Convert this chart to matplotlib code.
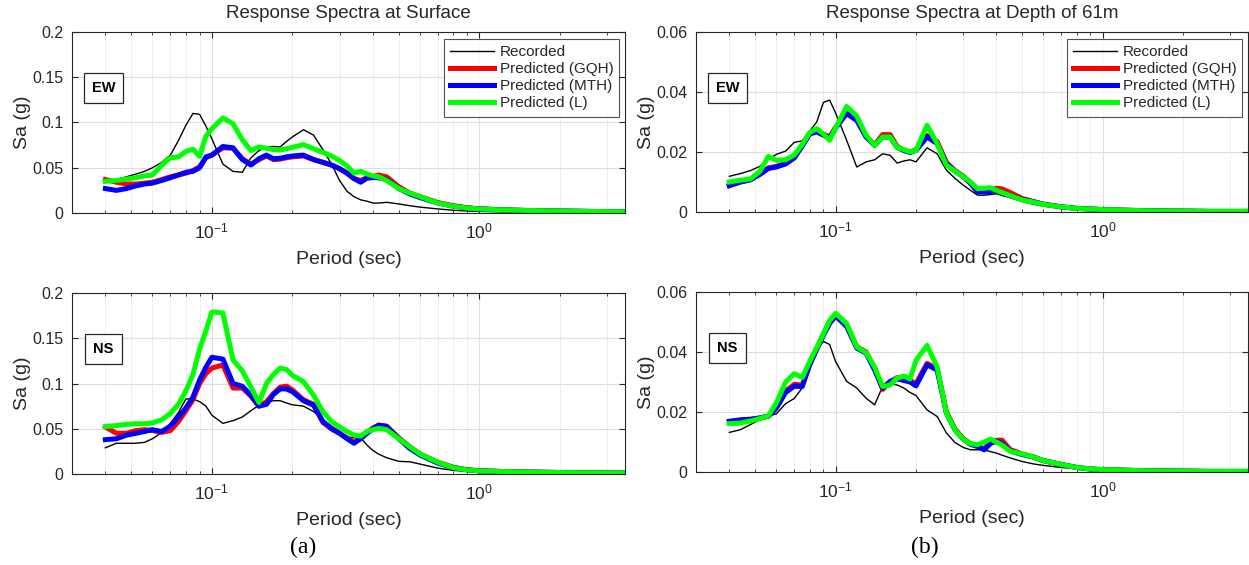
import math
import matplotlib
matplotlib.use("Agg")
import matplotlib.pyplot as plt
from matplotlib.ticker import LogLocator, FixedLocator, NullFormatter, FuncFormatter

plt.rcParams['font.family'] = ['Liberation Sans', 'DejaVu Sans']
plt.rcParams['mathtext.fontset'] = 'custom'
plt.rcParams['mathtext.rm'] = 'Liberation Sans'
plt.rcParams['mathtext.it'] = 'Liberation Sans:italic'

# ---- periods (sec) shared by all spectra ----
periods = [0.04, 0.044, 0.048, 0.052, 0.056, 0.06, 0.065, 0.07, 0.075, 0.08,
           0.085, 0.09, 0.095, 0.1, 0.11, 0.12, 0.13, 0.14, 0.15, 0.16,
           0.17, 0.18, 0.19, 0.2, 0.22, 0.24, 0.26, 0.28, 0.3, 0.32,
           0.34, 0.36, 0.38, 0.4, 0.42, 0.45, 0.5, 0.55, 0.6, 0.7,
           0.8, 0.9, 1.0, 1.2, 1.5, 2.0, 2.5, 3.0, 3.5]

# ---- surface, EW ----
ew_surf_rec = [0.035, 0.037, 0.040, 0.043, 0.046, 0.050, 0.056, 0.064, 0.080, 0.097,
               0.110, 0.109, 0.096, 0.082, 0.054, 0.046, 0.045, 0.061, 0.069, 0.073,
               0.0735, 0.073, 0.079, 0.084, 0.092, 0.086, 0.070, 0.054, 0.036, 0.024,
               0.018, 0.0145, 0.013, 0.011, 0.011, 0.0118, 0.010, 0.008, 0.0065, 0.0045,
               0.003, 0.0022, 0.0018, 0.0013, 0.001, 0.0007, 0.0005, 0.0004, 0.0003]
ew_surf_gqh = [0.037, 0.034, 0.032, 0.032, 0.033, 0.034, 0.037, 0.040, 0.042, 0.044,
               0.047, 0.051, 0.061, 0.064, 0.072, 0.0715, 0.060, 0.054, 0.059, 0.063,
               0.059, 0.0595, 0.061, 0.062, 0.063, 0.059, 0.056, 0.053, 0.049, 0.044,
               0.038, 0.036, 0.039, 0.040, 0.042, 0.040, 0.029, 0.022, 0.018, 0.0115,
               0.008, 0.0058, 0.0047, 0.0036, 0.0028, 0.0022, 0.0018, 0.0015, 0.0013]
ew_surf_mth = [0.027, 0.025, 0.027, 0.030, 0.032, 0.033, 0.036, 0.039, 0.042, 0.045,
               0.046, 0.050, 0.062, 0.064, 0.0735, 0.072, 0.059, 0.053, 0.060, 0.064,
               0.060, 0.0605, 0.062, 0.063, 0.064, 0.059, 0.056, 0.053, 0.049, 0.044,
               0.038, 0.034, 0.0385, 0.039, 0.039, 0.037, 0.027, 0.021, 0.017, 0.011,
               0.0075, 0.0055, 0.0045, 0.0035, 0.0028, 0.0022, 0.0018, 0.0015, 0.0013]
ew_surf_l = [0.035, 0.036, 0.0375, 0.039, 0.041, 0.042, 0.053, 0.061, 0.062, 0.068,
             0.0705, 0.0625, 0.085, 0.093, 0.105, 0.0985, 0.081, 0.069, 0.073, 0.0715,
             0.070, 0.0695, 0.071, 0.0725, 0.0755, 0.071, 0.067, 0.063, 0.058, 0.052,
             0.044, 0.046, 0.043, 0.041, 0.040, 0.036, 0.027, 0.022, 0.018, 0.011,
             0.0075, 0.0055, 0.0045, 0.0035, 0.0028, 0.0022, 0.0018, 0.0015, 0.0013]

# ---- surface, NS ----
ns_surf_rec = [0.029, 0.034, 0.034, 0.034, 0.035, 0.039, 0.046, 0.056, 0.068, 0.083,
               0.083, 0.080, 0.075, 0.065, 0.056, 0.059, 0.063, 0.070, 0.076, 0.079,
               0.081, 0.081, 0.0785, 0.0765, 0.075, 0.069, 0.060, 0.053, 0.047, 0.041,
               0.040, 0.040, 0.032, 0.026, 0.022, 0.018, 0.014, 0.0135, 0.011, 0.0065,
               0.004, 0.003, 0.0025, 0.0018, 0.0013, 0.0009, 0.0007, 0.0005, 0.0004]
ns_surf_gqh = [0.052, 0.045, 0.045, 0.048, 0.049, 0.048, 0.046, 0.048, 0.058, 0.070,
               0.082, 0.100, 0.111, 0.117, 0.1205, 0.095, 0.095, 0.086, 0.075, 0.080,
               0.089, 0.096, 0.097, 0.093, 0.082, 0.077, 0.057, 0.050, 0.045, 0.040,
               0.035, 0.040, 0.046, 0.051, 0.054, 0.053, 0.040, 0.030, 0.022, 0.013,
               0.0075, 0.0048, 0.0037, 0.0029, 0.0023, 0.0017, 0.0014, 0.0012, 0.001]
ns_surf_mth = [0.038, 0.039, 0.043, 0.045, 0.047, 0.049, 0.047, 0.053, 0.063, 0.073,
               0.085, 0.104, 0.118, 0.129, 0.127, 0.100, 0.097, 0.087, 0.075, 0.077,
               0.088, 0.094, 0.094, 0.091, 0.081, 0.076, 0.058, 0.050, 0.045, 0.039,
               0.034, 0.039, 0.045, 0.050, 0.054, 0.0525, 0.039, 0.028, 0.021, 0.012,
               0.007, 0.0045, 0.0035, 0.0028, 0.0022, 0.0017, 0.0014, 0.0012, 0.001]
ns_surf_l = [0.0525, 0.0535, 0.055, 0.0555, 0.0555, 0.0565, 0.060, 0.067, 0.077, 0.092,
             0.110, 0.138, 0.158, 0.179, 0.178, 0.126, 0.114, 0.096, 0.079, 0.100,
             0.110, 0.117, 0.1155, 0.109, 0.102, 0.087, 0.069, 0.058, 0.052, 0.047,
             0.043, 0.042, 0.047, 0.049, 0.0505, 0.049, 0.039, 0.030, 0.022, 0.013,
             0.007, 0.0045, 0.0035, 0.0028, 0.0022, 0.0017, 0.0014, 0.0012, 0.001]

# ---- depth 61 m, EW ----
ew_depth_rec = [0.0119, 0.0128, 0.0138, 0.0152, 0.0175, 0.0192, 0.0203, 0.0232, 0.0237, 0.027,
                0.030, 0.0365, 0.0373, 0.033, 0.0239, 0.015, 0.0167, 0.0174, 0.0194, 0.0189,
                0.0163, 0.017, 0.0174, 0.0167, 0.0214, 0.0194, 0.0139, 0.0112, 0.009, 0.0072,
                0.0056, 0.0056, 0.0058, 0.0061, 0.0055, 0.0048, 0.0035, 0.0026, 0.002, 0.0014,
                0.001, 0.0008, 0.0007, 0.0005, 0.0004, 0.0003, 0.0002, 0.0002, 0.0002]
ew_depth_gqh = [0.0088, 0.010, 0.0108, 0.0126, 0.0147, 0.0152, 0.0162, 0.0182, 0.0222, 0.0262,
                0.027, 0.026, 0.025, 0.0282, 0.033, 0.031, 0.0252, 0.0224, 0.0258, 0.0258,
                0.0218, 0.0207, 0.020, 0.0207, 0.0255, 0.0235, 0.0165, 0.0138, 0.012, 0.0097,
                0.0069, 0.007, 0.0074, 0.0079, 0.0077, 0.0065, 0.0045, 0.0035, 0.0026, 0.0017,
                0.0012, 0.001, 0.0008, 0.0006, 0.0004, 0.0003, 0.0002, 0.0002, 0.0002]
ew_depth_mth = [0.0088, 0.010, 0.0107, 0.0125, 0.0145, 0.015, 0.016, 0.018, 0.022, 0.026,
                0.0267, 0.0256, 0.0245, 0.028, 0.0328, 0.0305, 0.025, 0.0222, 0.025, 0.025,
                0.0215, 0.0205, 0.0198, 0.0205, 0.025, 0.0228, 0.0161, 0.0136, 0.0118, 0.0095,
                0.0067, 0.0067, 0.0068, 0.0072, 0.0065, 0.0055, 0.0042, 0.0034, 0.0026, 0.0017,
                0.0012, 0.001, 0.0008, 0.0006, 0.0004, 0.0003, 0.0002, 0.0002, 0.0002]
ew_depth_l = [0.010, 0.0106, 0.011, 0.0135, 0.0185, 0.0172, 0.0174, 0.019, 0.0225, 0.0265,
              0.0278, 0.026, 0.0239, 0.028, 0.0352, 0.032, 0.0256, 0.0222, 0.025, 0.025,
              0.0215, 0.0208, 0.020, 0.0205, 0.0289, 0.0228, 0.0156, 0.0136, 0.0118, 0.010,
              0.0078, 0.0079, 0.0081, 0.0072, 0.0065, 0.0055, 0.004, 0.0033, 0.0025, 0.0017,
              0.0012, 0.001, 0.0008, 0.0006, 0.0004, 0.0003, 0.0002, 0.0002, 0.0002]

# ---- depth 61 m, NS ----
ns_depth_rec = [0.0132, 0.0141, 0.0158, 0.0175, 0.0186, 0.0194, 0.0228, 0.0245, 0.028, 0.0346,
                0.041, 0.0435, 0.0425, 0.0368, 0.0302, 0.028, 0.0246, 0.0224, 0.0285, 0.0295,
                0.029, 0.028, 0.0265, 0.0255, 0.0207, 0.0185, 0.013, 0.0098, 0.0082, 0.0074,
                0.0074, 0.0074, 0.0068, 0.0063, 0.0056, 0.0047, 0.0035, 0.0027, 0.0022, 0.0015,
                0.0011, 0.0009, 0.0007, 0.0005, 0.0004, 0.0003, 0.0002, 0.0002, 0.0002]
ns_depth_gqh = [0.0168, 0.0172, 0.0175, 0.018, 0.0186, 0.0215, 0.027, 0.0292, 0.029, 0.036,
                0.041, 0.046, 0.050, 0.0525, 0.049, 0.0418, 0.040, 0.0345, 0.0275, 0.030,
                0.0315, 0.031, 0.0305, 0.0295, 0.0362, 0.0345, 0.020, 0.0143, 0.0112, 0.0094,
                0.0087, 0.0077, 0.0098, 0.0106, 0.0106, 0.0075, 0.006, 0.005, 0.0038, 0.0025,
                0.0015, 0.001, 0.0008, 0.0006, 0.0004, 0.0003, 0.0002, 0.0002, 0.0002]
ns_depth_mth = [0.0169, 0.0174, 0.0176, 0.018, 0.0186, 0.0213, 0.0265, 0.0286, 0.0285, 0.0357,
                0.041, 0.0455, 0.0495, 0.052, 0.0485, 0.0413, 0.0396, 0.034, 0.028, 0.0302,
                0.031, 0.0305, 0.030, 0.0287, 0.0357, 0.034, 0.0196, 0.014, 0.011, 0.0092,
                0.0085, 0.0074, 0.0095, 0.0102, 0.0096, 0.007, 0.0058, 0.005, 0.0038, 0.0025,
                0.0015, 0.001, 0.0008, 0.0006, 0.0004, 0.0003, 0.0002, 0.0002, 0.0002]
ns_depth_l = [0.0161, 0.0163, 0.017, 0.0178, 0.0187, 0.023, 0.030, 0.0328, 0.0315, 0.0368,
              0.0415, 0.046, 0.0505, 0.0529, 0.0495, 0.0417, 0.0398, 0.035, 0.0285, 0.029,
              0.0313, 0.032, 0.031, 0.0372, 0.0422, 0.035, 0.0196, 0.014, 0.011, 0.0094,
              0.0091, 0.010, 0.011, 0.010, 0.009, 0.0069, 0.006, 0.005, 0.0038, 0.0025,
              0.0015, 0.001, 0.0008, 0.0006, 0.0004, 0.0003, 0.0002, 0.0002, 0.0002]

labels = ['Recorded', 'Predicted (GQH)', 'Predicted (MTH)', 'Predicted (L)']
colors = ['black', (1, 0, 0), (0, 0, 1), (0, 1, 0)]
widths = [1.0, 3.6, 3.6, 3.6]

GREY = '#262626'

fig = plt.figure(figsize=(12.49, 5.65), dpi=100)


def decade_label(v, pos):
    return r'$\mathregular{10^{%d}}$' % round(math.log10(v))


def draw_panel(rect, series, ymax, yticks, ylabels, tag, title=None, legend=False):
    ax = fig.add_axes(rect)
    for vals, c, lw, lab in zip(series, colors, widths, labels):
        ax.plot(periods, vals, color=c, lw=lw, label=lab)
    ax.set_xscale('log')
    ax.set_xlim(0.03, 3.5)
    ax.set_ylim(0, ymax)
    ax.set_yticks(yticks)
    ax.set_yticklabels(ylabels)
    ax.xaxis.set_major_locator(FixedLocator([0.1, 1.0]))
    ax.xaxis.set_major_formatter(FuncFormatter(decade_label))
    ax.xaxis.set_minor_locator(LogLocator(base=10, subs=range(2, 10), numticks=20))
    ax.xaxis.set_minor_formatter(NullFormatter())
    ax.grid(True, which='major', color='#dedede', lw=0.8)
    ax.grid(True, which='minor', axis='x', color='#d4d4d4', lw=0.7, ls=':')
    ax.set_axisbelow(True)
    ax.tick_params(which='both', direction='in', top=True, right=True,
                   colors=GREY, labelsize=11.5, pad=6)
    ax.tick_params(axis='x', which='major', labelsize=12.5)
    ax.tick_params(which='major', length=4)
    ax.tick_params(which='minor', length=2.5)
    for s in ax.spines.values():
        s.set_color(GREY)
        s.set_linewidth(0.8)
    ax.set_xlabel('Period (sec)', fontsize=14, color=GREY, labelpad=7)
    ax.set_ylabel('Sa (g)', fontsize=14, color=GREY, labelpad=1)
    if title:
        ax.set_title(title, fontsize=13.5, color=GREY, pad=10)
    ax.text(0.057, 0.69, tag, transform=ax.transAxes, ha='center', va='center',
            fontsize=10.5, fontweight='bold', color='black',
            bbox=dict(boxstyle='square,pad=0.55', fc='white', ec=GREY, lw=0.9))
    if legend:
        leg = ax.legend(loc='upper right', bbox_to_anchor=(0.99, 0.96),
                        fontsize=11, frameon=True, fancybox=False,
                        handlelength=2.9, handletextpad=0.35, labelspacing=0.2,
                        borderpad=0.4, borderaxespad=0.0)
        leg.get_frame().set_edgecolor(GREY)
        leg.get_frame().set_linewidth(0.8)
        for t in leg.get_texts():
            t.set_color(GREY)
    return ax


surf_ticks = [0, 0.05, 0.1, 0.15, 0.2]
surf_labels = ['0', '0.05', '0.1', '0.15', '0.2']
depth_ticks = [0, 0.02, 0.04, 0.06]
depth_labels = ['0', '0.02', '0.04', '0.06']

draw_panel([0.0576, 0.623, 0.4428, 0.3204],
           [ew_surf_rec, ew_surf_gqh, ew_surf_mth, ew_surf_l],
           0.2, surf_ticks, surf_labels, 'EW',
           title='Response Spectra at Surface', legend=True)
draw_panel([0.0576, 0.161, 0.4428, 0.3204],
           [ns_surf_rec, ns_surf_gqh, ns_surf_mth, ns_surf_l],
           0.2, surf_ticks, surf_labels, 'NS')
draw_panel([0.5572, 0.6248, 0.442, 0.3186],
           [ew_depth_rec, ew_depth_gqh, ew_depth_mth, ew_depth_l],
           0.06, depth_ticks, depth_labels, 'EW',
           title='Response Spectra at Depth of 61m', legend=True)
draw_panel([0.5572, 0.1646, 0.442, 0.3186],
           [ns_depth_rec, ns_depth_gqh, ns_depth_mth, ns_depth_l],
           0.06, depth_ticks, depth_labels, 'NS')

fig.text(303 / 1249, 1 - 547 / 565, '(a)', ha='center', va='center',
         fontsize=17, family='Liberation Serif')
fig.text(925 / 1249, 1 - 547 / 565, '(b)', ha='center', va='center',
         fontsize=17, family='Liberation Serif')

fig.savefig('out.png', dpi=100)
